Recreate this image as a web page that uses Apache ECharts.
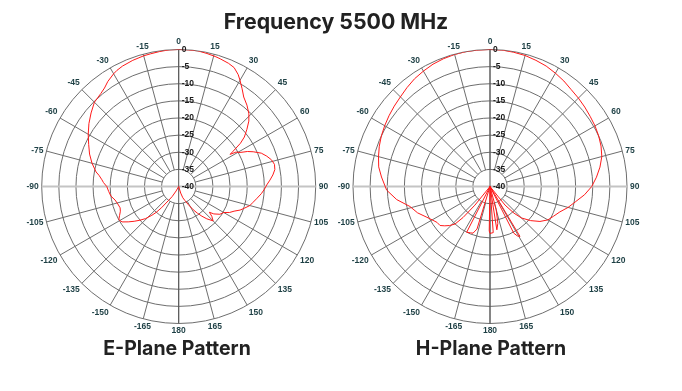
<!DOCTYPE html>
<html><head><meta charset="utf-8">
<script src="https://cdn.jsdelivr.net/npm/echarts@6/dist/echarts.min.js"></script>
<style>html,body{margin:0;padding:0;background:#fff}#c{width:682px;height:391px}</style>
</head><body><div id="c"></div>
<script>
const titleText = 'Frequency 5500 MHz';
const planeNames = ['E-Plane Pattern', 'H-Plane Pattern'];
const angleTickStep = 15;
const radiusTickStep = 5;
const radiusMin = -40;
const radiusMax = 0;

const ePlaneAngles = [-180,-170,-160,-155,-150,-147,-144,-141,-139,-137,-134,-131,-128,-125,-122,-119,-116,-113,-110,-106,-102,-98,-94,-90,-87,-85,-82,-80,-75,-70,-65,-60,-55,-50,-45,-40,-37,-34,-30,-28,-25,-20,-15,-12,-8,-4,0,4,8,12,16,18,22,25,28,30,33,36,40,44,47,50,53,55,57,58,59,61,63,65,68,71,74,77,80,83,86,89,92,95,99,102,105,108,111,114,117,120,124,128,130,132,135,137,139,142,145,148,152,156,160,163,166,170,180];
const ePlaneGain = [-40,-40,-40,-40,-38.5,-36.5,-35,-32,-30,-28.5,-26.5,-25,-23.5,-22,-20.5,-20,-20.8,-21.5,-21.8,-21.5,-21,-20,-19.5,-19,-18,-17.5,-16.5,-15.5,-13.8,-12.3,-11,-9.5,-8,-6.6,-5.2,-4.6,-4,-3,-2,-1.6,-1.2,-0.8,-0.5,-0.4,-0.2,0,0,0,0,-0.3,-0.6,-0.8,-1.2,-1.7,-3,-4.2,-6,-7.7,-9,-10.5,-12,-14,-16,-18,-21,-22.3,-20.5,-19.5,-17.5,-16,-14,-12.8,-11.8,-11.3,-11.5,-12.3,-13.3,-14.3,-15,-15.8,-17,-17.8,-18.5,-19.7,-20.8,-22.3,-23.3,-24.8,-25.5,-27,-28.3,-27,-25.8,-25.5,-27.5,-29,-30.5,-32,-34,-35.5,-36.5,-38,-40,-40,-40];

const hPlaneAngles = [-180,-179,-178,-170,-165,-163,-160,-157,-153,-151,-149,-145,-141,-139,-137,-134,-131,-128,-124,-120,-116,-110,-104,-98,-92,-85,-80,-75,-70,-65,-60,-55,-50,-45,-40,-35,-30,-25,-20,-15,-10,-5,0,5,10,15,20,25,30,35,40,45,50,55,60,65,70,75,80,85,90,95,100,105,110,115,120,125,130,135,138,141,144,147,149,151,153,156,160,165,168,171,174,176,178,180];
const hPlaneGain = [-26.3,-27,-40,-40,-40,-27,-25.5,-25.3,-25,-25,-40,-40,-33,-28,-25,-23.6,-22.5,-21.5,-21.3,-20.5,-19.5,-17.5,-15.9,-12.5,-9.8,-8.2,-7,-6.3,-5.6,-5,-4.5,-4,-3.5,-3,-2.3,-1.6,-1.1,-0.6,-0.3,-0.1,0,0,0,0,-0.2,-0.4,-0.8,-1.2,-1.8,-2.4,-3.1,-3.5,-3.9,-4.3,-4.6,-5,-5.5,-6.2,-7.4,-8.8,-10.3,-12.3,-14.6,-16.4,-18.3,-19.5,-20.5,-22.2,-24.5,-27,-29.5,-33,-40,-40,-23,-23.5,-24.7,-40,-40,-33,-29,-27.2,-40,-26.5,-26,-26.3];

const centersX = [178.7, 490];
const centerY = 186.5;
const outerR = 137;
const innerR = outerR * radiusTickStep / (radiusMax - radiusMin);

const gridColor = '#6e6e6e';
const fmtAngle = v => String(v > 180 ? v - 360 : v);
const hidden = {axisLine:{show:false},axisTick:{show:false},axisLabel:{show:false},splitLine:{show:false}};

const polar = [], angleAxis = [], radiusAxis = [], series = [];
const planes = [[ePlaneAngles, ePlaneGain], [hPlaneAngles, hPlaneGain]];

planes.forEach((p, i) => {
  const c = [centersX[i], centerY];
  polar.push({center: c, radius: [innerR, outerR]});
  angleAxis.push({polarIndex: polar.length-1, type:'value', min:0, max:360, interval:angleTickStep, startAngle:90, clockwise:true,
    axisLine:{show:false}, axisTick:{show:false},
    axisLabel:{show:true, margin:3, formatter:fmtAngle, color:'#1d3f44', fontSize:8.5, fontWeight:'bold', fontFamily:'Liberation Sans Narrow, Liberation Sans, Arial'},
    splitLine:{show:true, lineStyle:{color:gridColor, width:1}}});
  radiusAxis.push({polarIndex: polar.length-1, type:'value', min:radiusMin+radiusTickStep, max:radiusMax, interval:radiusTickStep,
    axisLine:{show:false}, axisTick:{show:false}, axisLabel:{show:false},
    splitLine:{show:true, lineStyle:{color:gridColor, width:1}}});
  polar.push({center: c, radius: [0, outerR]});
  angleAxis.push(Object.assign({polarIndex: polar.length-1, type:'value', min:0, max:360, interval:180, startAngle:0, clockwise:true}, hidden,
    {splitLine:{show:true, lineStyle:{color:'#c4c4c4', width:2}}}));
  radiusAxis.push(Object.assign({polarIndex: polar.length-1, type:'value', min:radiusMin, max:radiusMax}, hidden));
  polar.push({center: c, radius: [0, outerR]});
  angleAxis.push(Object.assign({polarIndex: polar.length-1, type:'value', min:0, max:360, interval:180, startAngle:90, clockwise:true}, hidden,
    {splitLine:{show:true, lineStyle:{color:'#555', width:1}}}));
  radiusAxis.push(Object.assign({polarIndex: polar.length-1, type:'value', min:radiusMin, max:radiusMax}, hidden));
  polar.push({center: c, radius: [0, outerR]});
  const di = polar.length-1;
  angleAxis.push(Object.assign({polarIndex: di, type:'value', min:0, max:360, interval:angleTickStep, startAngle:90, clockwise:true}, hidden));
  radiusAxis.push({polarIndex: di, type:'value', min:radiusMin, max:radiusMax, interval:radiusTickStep, z: 5,
    axisLine:{show:false}, axisTick:{show:false}, splitLine:{show:false},
    axisLabel:{show:true, showMinLabel:true, showMaxLabel:true, margin:-3, align:'left', verticalAlign:'middle', color:'#1a1a1a', fontWeight:'bold', fontSize:8.5, fontFamily:'Liberation Sans Narrow, Liberation Sans, Arial'}});
  series.push({type:'line', coordinateSystem:'polar', polarIndex: di, showSymbol:false, clip:false, z:3,
    lineStyle:{color:'#ff1a1a', width:1}, data: p[0].map((a, k) => [p[1][k], a < 0 ? a + 360 : a])});
});

const titleFont = {fontSize:21.3, fontWeight:'bold', color:'#222', fontFamily:'Inter, Open Sans, sans-serif'};
const subFont = {fontSize:19.5, fontWeight:'bold', color:'#222', fontFamily:'Inter, Open Sans, sans-serif'};
const chart = echarts.init(document.getElementById('c'), null, {renderer:'canvas'});
chart.setOption({
  animation:false,
  backgroundColor:'#fff',
  title:[
    {text:titleText, left:331, top:7, textAlign:'center', textStyle:titleFont},
    {text:planeNames[0], left:172, top:334, textAlign:'center', textStyle:subFont},
    {text:planeNames[1], left:486, top:334, textAlign:'center', textStyle:subFont}
  ],
  polar, angleAxis, radiusAxis, series
});
</script></body></html>
